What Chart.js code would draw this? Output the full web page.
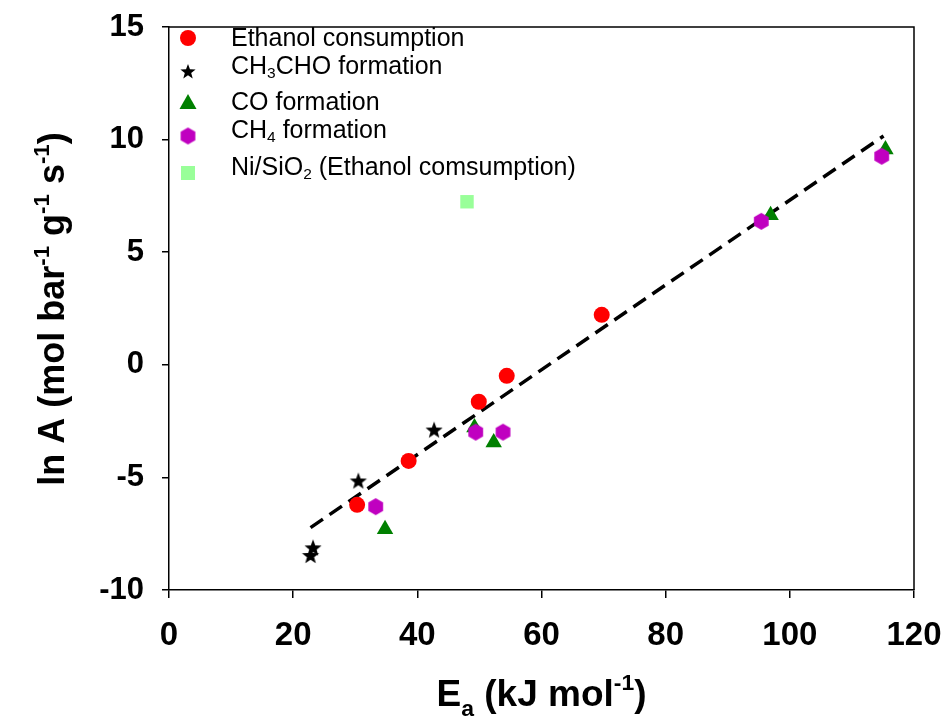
<!DOCTYPE html>
<html>
<head>
<meta charset="utf-8">
<script src="https://cdn.jsdelivr.net/npm/chart.js@4.4.1/dist/chart.umd.min.js"></script>
<style>
  html, body { margin: 0; padding: 0; background: #fff; }
  #wrap { width: 944px; height: 722px; }
</style>
</head>
<body>
<div id="wrap"><canvas id="chart" width="944" height="722"></canvas></div>
<script>
// Ethanol consumption
const ethanolEa = [30.3, 38.6, 49.9, 54.4, 69.7];
const ethanolLnA = [-6.22, -4.27, -1.64, -0.49, 2.22];
// CH3CHO formation
const acetEa = [22.8, 23.2, 30.5, 42.7];
const acetLnA = [-8.49, -8.15, -5.18, -2.92];
// CO formation
const coEa = [34.8, 49.2, 52.3, 96.9, 115.4];
const coLnA = [-7.30, -2.78, -3.45, 6.64, 9.56];
// CH4 formation
const ch4Ea = [33.3, 49.4, 53.8, 95.4, 114.8];
const ch4LnA = [-6.30, -2.99, -2.99, 6.37, 9.26];
// Ni/SiO2 reference
const niEa = [48.0];
const niLnA = [7.24];
// compensation line end points
const fitEa = [22.8, 115.1];
const fitLnA = [-7.23, 10.16];

const xTicks = [0, 20, 40, 60, 80, 100, 120];
const yTicks = [-10, -5, 0, 5, 10, 15];

const FONT = "'Liberation Sans', Arial, Helvetica, sans-serif";

function toPoints(xs, ys) {
  return xs.map((x, i) => ({x: x, y: ys[i]}));
}

// marker images for shapes chart.js doesn't have
function makeStar(r, color) {
  const c = document.createElement('canvas');
  c.width = c.height = r * 2 + 2;
  const g = c.getContext('2d');
  g.translate(r + 1, r + 1);
  g.beginPath();
  for (let i = 0; i < 10; i++) {
    const rad = i % 2 === 0 ? r : r * 0.42;
    const a = -Math.PI / 2 + i * Math.PI / 5;
    g.lineTo(Math.cos(a) * rad, Math.sin(a) * rad);
  }
  g.closePath();
  g.fillStyle = color;
  g.fill();
  return c;
}
function makeHex(r, color) {
  const c = document.createElement('canvas');
  c.width = c.height = r * 2 + 2;
  const g = c.getContext('2d');
  g.translate(r + 1, r + 1);
  g.beginPath();
  for (let i = 0; i < 6; i++) {
    const a = -Math.PI / 2 + i * Math.PI / 3;
    g.lineTo(Math.cos(a) * r, Math.sin(a) * r);
  }
  g.closePath();
  g.fillStyle = color;
  g.fill();
  return c;
}
const starImg = makeStar(9, '#000000');
const hexImg = makeHex(8.5, '#c000c0');

// text with sub/superscripts: parts = [[text, 'sub'|'sup'|undefined], ...]
function richWidth(ctx, parts, size, weight) {
  let w = 0;
  parts.forEach(p => {
    const s = p[1] ? size * 0.62 : size;
    ctx.font = weight + ' ' + s + 'px ' + FONT;
    w += ctx.measureText(p[0]).width;
  });
  return w;
}
function drawRich(ctx, parts, x, y, size, weight) {
  let cx = x;
  parts.forEach(p => {
    const s = p[1] ? size * 0.62 : size;
    ctx.font = weight + ' ' + s + 'px ' + FONT;
    let dy = 0;
    if (p[1] === 'sub') dy = size * 0.28;
    if (p[1] === 'sup') dy = -size * 0.42;
    ctx.fillText(p[0], cx, y + dy);
    cx += ctx.measureText(p[0]).width;
  });
}

const legendRows = [
  {y: 39, text: [['Ethanol consumption']], mark: 'circle', my: 38},
  {y: 67, text: [['CH'], ['3', 'sub'], ['CHO formation']], mark: 'star', my: 72},
  {y: 103, text: [['CO formation']], mark: 'tri', my: 103},
  {y: 131, text: [['CH'], ['4', 'sub'], [' formation']], mark: 'hex', my: 136},
  {y: 168, text: [['Ni/SiO'], ['2', 'sub'], [' (Ethanol comsumption)']], mark: 'sq', my: 173}
];

const annotations = {
  id: 'annotations',
  afterDraw(chart) {
    const ctx = chart.ctx;
    const a = chart.chartArea;
    const xs = chart.scales.x;
    const ys = chart.scales.y;
    ctx.save();
    // top and right edges of the frame
    ctx.strokeStyle = '#000';
    ctx.lineWidth = 1.5;
    ctx.beginPath();
    ctx.moveTo(a.left, a.top);
    ctx.lineTo(a.right, a.top);
    ctx.lineTo(a.right, a.bottom);
    ctx.stroke();

    // tick labels
    ctx.fillStyle = '#000';
    ctx.font = 'bold 33px ' + FONT;
    ctx.textAlign = 'center';
    ctx.textBaseline = 'middle';
    xTicks.forEach(v => ctx.fillText(String(v), xs.getPixelForValue(v), 636));
    ctx.font = 'bold 31px ' + FONT;
    ctx.textAlign = 'right';
    yTicks.forEach(v => ctx.fillText(String(v), 144, ys.getPixelForValue(v)));

    // legend
    ctx.textAlign = 'left';
    const mx = 188;
    legendRows.forEach(r => {
      if (r.mark === 'circle') {
        ctx.fillStyle = '#ff0000';
        ctx.beginPath();
        ctx.arc(mx, r.my, 8, 0, Math.PI * 2);
        ctx.fill();
      } else if (r.mark === 'star') {
        const s = makeStar(8, '#000');
        ctx.drawImage(s, mx - s.width / 2, r.my - s.height / 2);
      } else if (r.mark === 'tri') {
        ctx.fillStyle = '#008000';
        ctx.beginPath();
        ctx.moveTo(mx, r.my - 9);
        ctx.lineTo(mx + 8.5, r.my + 6);
        ctx.lineTo(mx - 8.5, r.my + 6);
        ctx.closePath();
        ctx.fill();
      } else if (r.mark === 'hex') {
        ctx.drawImage(hexImg, mx - hexImg.width / 2, r.my - hexImg.height / 2);
      } else {
        ctx.fillStyle = '#99ff99';
        ctx.fillRect(mx - 7, r.my - 7, 14, 14);
      }
      ctx.fillStyle = '#000';
      drawRich(ctx, r.text, 231, r.y, 25, 'normal');
    });

    // x axis title
    const xt = [['E'], ['a', 'sub'], [' (kJ mol'], ['-1', 'sup'], [')']];
    ctx.textBaseline = 'alphabetic';
    const xw = richWidth(ctx, xt, 37, 'bold');
    drawRich(ctx, xt, (a.left + a.right) / 2 - xw / 2, 706, 37, 'bold');

    // y axis title
    const yt = [['ln A (mol bar'], ['-1', 'sup'], [' g'], ['-1', 'sup'], [' s'], ['-1', 'sup'], [')']];
    const yw = richWidth(ctx, yt, 36, 'bold');
    ctx.translate(64, 309);
    ctx.rotate(-Math.PI / 2);
    drawRich(ctx, yt, -yw / 2, 0, 36, 'bold');
    ctx.restore();
  }
};

const ctx = document.getElementById('chart');

new Chart(ctx, {
  type: 'scatter',
  data: {
    datasets: [
      {
        label: 'Ethanol consumption',
        data: toPoints(ethanolEa, ethanolLnA),
        pointStyle: 'circle',
        pointRadius: 8,
        backgroundColor: '#ff0000',
        borderWidth: 0,
        order: 2
      },
      {
        label: 'CH3CHO formation',
        data: toPoints(acetEa, acetLnA),
        pointStyle: starImg,
        order: 1
      },
      {
        label: 'CO formation',
        data: toPoints(coEa, coLnA),
        pointStyle: 'triangle',
        pointRadius: 9.5,
        backgroundColor: '#008000',
        borderWidth: 0,
        order: 4
      },
      {
        label: 'CH4 formation',
        data: toPoints(ch4Ea, ch4LnA),
        pointStyle: hexImg,
        order: 3
      },
      {
        label: 'Ni/SiO2 (Ethanol comsumption)',
        data: toPoints(niEa, niLnA),
        pointStyle: 'rect',
        pointRadius: 9.5,
        backgroundColor: '#99ff99',
        borderWidth: 0,
        order: 5
      },
      {
        label: 'fit',
        data: toPoints(fitEa, fitLnA),
        showLine: true,
        pointRadius: 0,
        borderColor: '#000',
        borderWidth: 3.5,
        borderDash: [15, 8],
        order: 10
      }
    ]
  },
  options: {
    responsive: false,
    animation: false,
    layout: {padding: {top: 27, right: 30, left: 0, bottom: 0}},
    plugins: {
      legend: {display: false},
      tooltip: {enabled: false}
    },
    scales: {
      x: {
        type: 'linear',
        min: 0,
        max: 120,
        afterFit(scale) { scale.height = 132; },
        afterBuildTicks(scale) { scale.ticks = xTicks.map(v => ({value: v})); },
        border: {display: true, color: '#000', width: 1.5},
        grid: {drawOnChartArea: false, drawTicks: true, tickLength: 8, color: '#000', lineWidth: 1.5},
        ticks: {display: false}
      },
      y: {
        type: 'linear',
        min: -10,
        max: 15,
        afterFit(scale) { scale.width = 169; },
        afterBuildTicks(scale) { scale.ticks = yTicks.map(v => ({value: v})); },
        border: {display: true, color: '#000', width: 1.5},
        grid: {drawOnChartArea: false, drawTicks: true, tickLength: 7, color: '#000', lineWidth: 1.5},
        ticks: {display: false}
      }
    }
  },
  plugins: [annotations]
});
</script>
</body>
</html>
